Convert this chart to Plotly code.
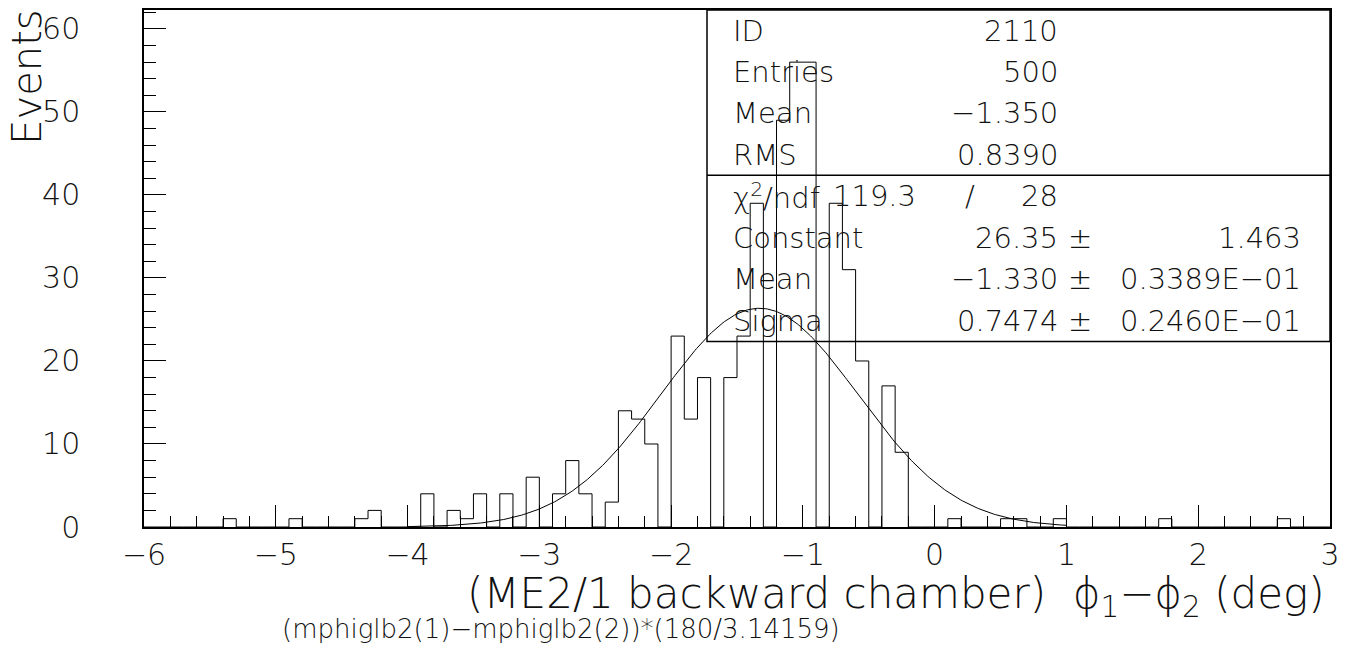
import numpy as np
import plotly.graph_objects as go

# ---- data ----
bin_left = [-5.4, -4.9, -4.4, -4.3, -3.9, -3.7, -3.6, -3.5, -3.3, -3.1, -2.9, -2.8, -2.7,
            -2.5, -2.4, -2.3, -2.2, -2.0, -1.9, -1.8, -1.6, -1.5, -1.4, -1.2, -1.1, -1.0,
            -0.8, -0.7, -0.6, -0.4, -0.3, 0.1, 0.5, 0.6, 0.9, 1.7, 2.6]
counts = [1, 1, 1, 2, 4, 2, 1, 4, 4, 6, 4, 8, 4,
          3, 14, 13, 10, 23, 13, 18, 18, 23, 39, 49, 56, 56,
          39, 31, 20, 17, 9, 1, 1, 1, 1, 1, 1]
x_min, x_max, bin_width = -6.0, 3.0, 0.1

fit_constant, fit_mean, fit_sigma = 26.35, -1.330, 0.7474
fit_range = (-4.0, 1.0)

stats_rows = [("ID", "2110"), ("Entries", "500"), ("Mean", "\u22121.350"), ("RMS", "0.8390")]
fit_rows = [("Constant", "26.35", "1.463"),
            ("Mean", "\u22121.330", "0.3389E\u221201"),
            ("Sigma", "0.7474", "0.2460E\u221201")]
chi2_text, ndf_text = "119.3", "28"

# ---- build histogram outline ----
nb = int(round((x_max - x_min) / bin_width))
full = np.zeros(nb)
for l, c in zip(bin_left, counts):
    full[int(round((l - x_min) / bin_width))] = c
edges = x_min + bin_width * np.arange(nb + 1)
ys = np.append(full, full[-1])

W, H = 1351, 649
ML, MR, MT, MB = 144, 21, 8, 122
PW, PH = W - ML - MR, H - MT - MB
def px(x):
    return (x - ML) / PW
def py(y):
    return (H - MB - y) / PH

FONT = "DejaVu Sans ExtraLight, DejaVu Sans, sans-serif"
TXT = "#111"

fig = go.Figure()
fig.add_trace(go.Scatter(x=edges, y=ys, mode="lines", line=dict(color="black", width=1, shape="hv"),
                         hoverinfo="skip", showlegend=False))
xf = np.linspace(fit_range[0], fit_range[1], 400)
yf = fit_constant * np.exp(-0.5 * ((xf - fit_mean) / fit_sigma) ** 2)
fig.add_trace(go.Scatter(x=xf, y=yf, mode="lines", line=dict(color="black", width=1),
                         hoverinfo="skip", showlegend=False))

ymax = PH / 8.333
fig.update_xaxes(range=[x_min, x_max], tickmode="linear", tick0=-6, dtick=1,
                 ticks="inside", ticklen=22, tickwidth=1, tickcolor="black",
                 minor=dict(dtick=0.2, ticks="inside", ticklen=11, tickwidth=1, tickcolor="black"),
                 showline=True, linecolor="black", linewidth=1.5, mirror=True,
                 showgrid=False, zeroline=False,
                 tickfont=dict(family=FONT, size=30, color=TXT, weight=200),
                 ticklabelstandoff=0)
fig.update_yaxes(range=[0, ymax], tickmode="linear", tick0=0, dtick=10,
                 ticks="inside", ticklen=22, tickwidth=1, tickcolor="black",
                 minor=dict(dtick=2, ticks="inside", ticklen=12, tickwidth=1, tickcolor="black"),
                 showline=True, linecolor="black", linewidth=1.5, mirror=True,
                 showgrid=False, zeroline=False,
                 tickfont=dict(family=FONT, size=30, color=TXT, weight=200),
                 ticklabelstandoff=56)

shapes = [
    dict(type="rect", xref="paper", yref="paper", x0=px(707), x1=px(1330), y0=py(340.7), y1=py(8),
         line=dict(color="black", width=1.5)),
    dict(type="line", xref="paper", yref="paper", x0=px(707), x1=px(1330), y0=py(174), y1=py(174),
         line=dict(color="black", width=1.5)),
]

ann = []
def text(x, y, s, size, xa="left", ya="middle", angle=0):
    ann.append(dict(x=px(x), y=py(y), xref="paper", yref="paper", text=s, showarrow=False,
                    xanchor=xa, yanchor=ya, textangle=angle,
                    font=dict(family=FONT, size=size, color=TXT, weight=200)))

LX, C1, PM, C2 = 731, 1060, 1080, 1303
row1 = [28.8, 70.3, 111.8, 153.3]
row2 = [194.8, 236.5, 278.2, 319.9]
for (lab, val), y in zip(stats_rows, row1):
    text(LX, y, lab, 29)
    text(C1, y, val, 29, xa="right")
text(LX, row2[0], "\u03c7<sup>2</sup>/ndf", 29)
text(831, row2[0], chi2_text, 29)
text(970, row2[0], "/", 29, xa="center")
text(C1, row2[0], ndf_text, 29, xa="right")
for (lab, v, e), y in zip(fit_rows, row2[1:]):
    text(LX, y, lab, 29)
    text(C1, y, v, 29, xa="right")
    text(PM, y, "\u00b1", 29, xa="center")
    text(C2, y, e, 29, xa="right")

text(1327, 597, "(ME2/1 backward chamber)  \u03d5<sub>1</sub>\u2212\u03d5<sub>2</sub> (deg)", 42, xa="right")
text(561, 629, "(mphiglb2(1)\u2212mphiglb2(2))*(180/3.14159)", 26, xa="center")
text(27, 76, "Events", 40, xa="center", angle=-90)

fig.update_layout(width=W, height=H, autosize=False,
                  margin=dict(l=ML, r=MR, t=MT, b=MB),
                  plot_bgcolor="white", paper_bgcolor="white",
                  shapes=shapes, annotations=ann, showlegend=False)
fig.write_html("out.html")
